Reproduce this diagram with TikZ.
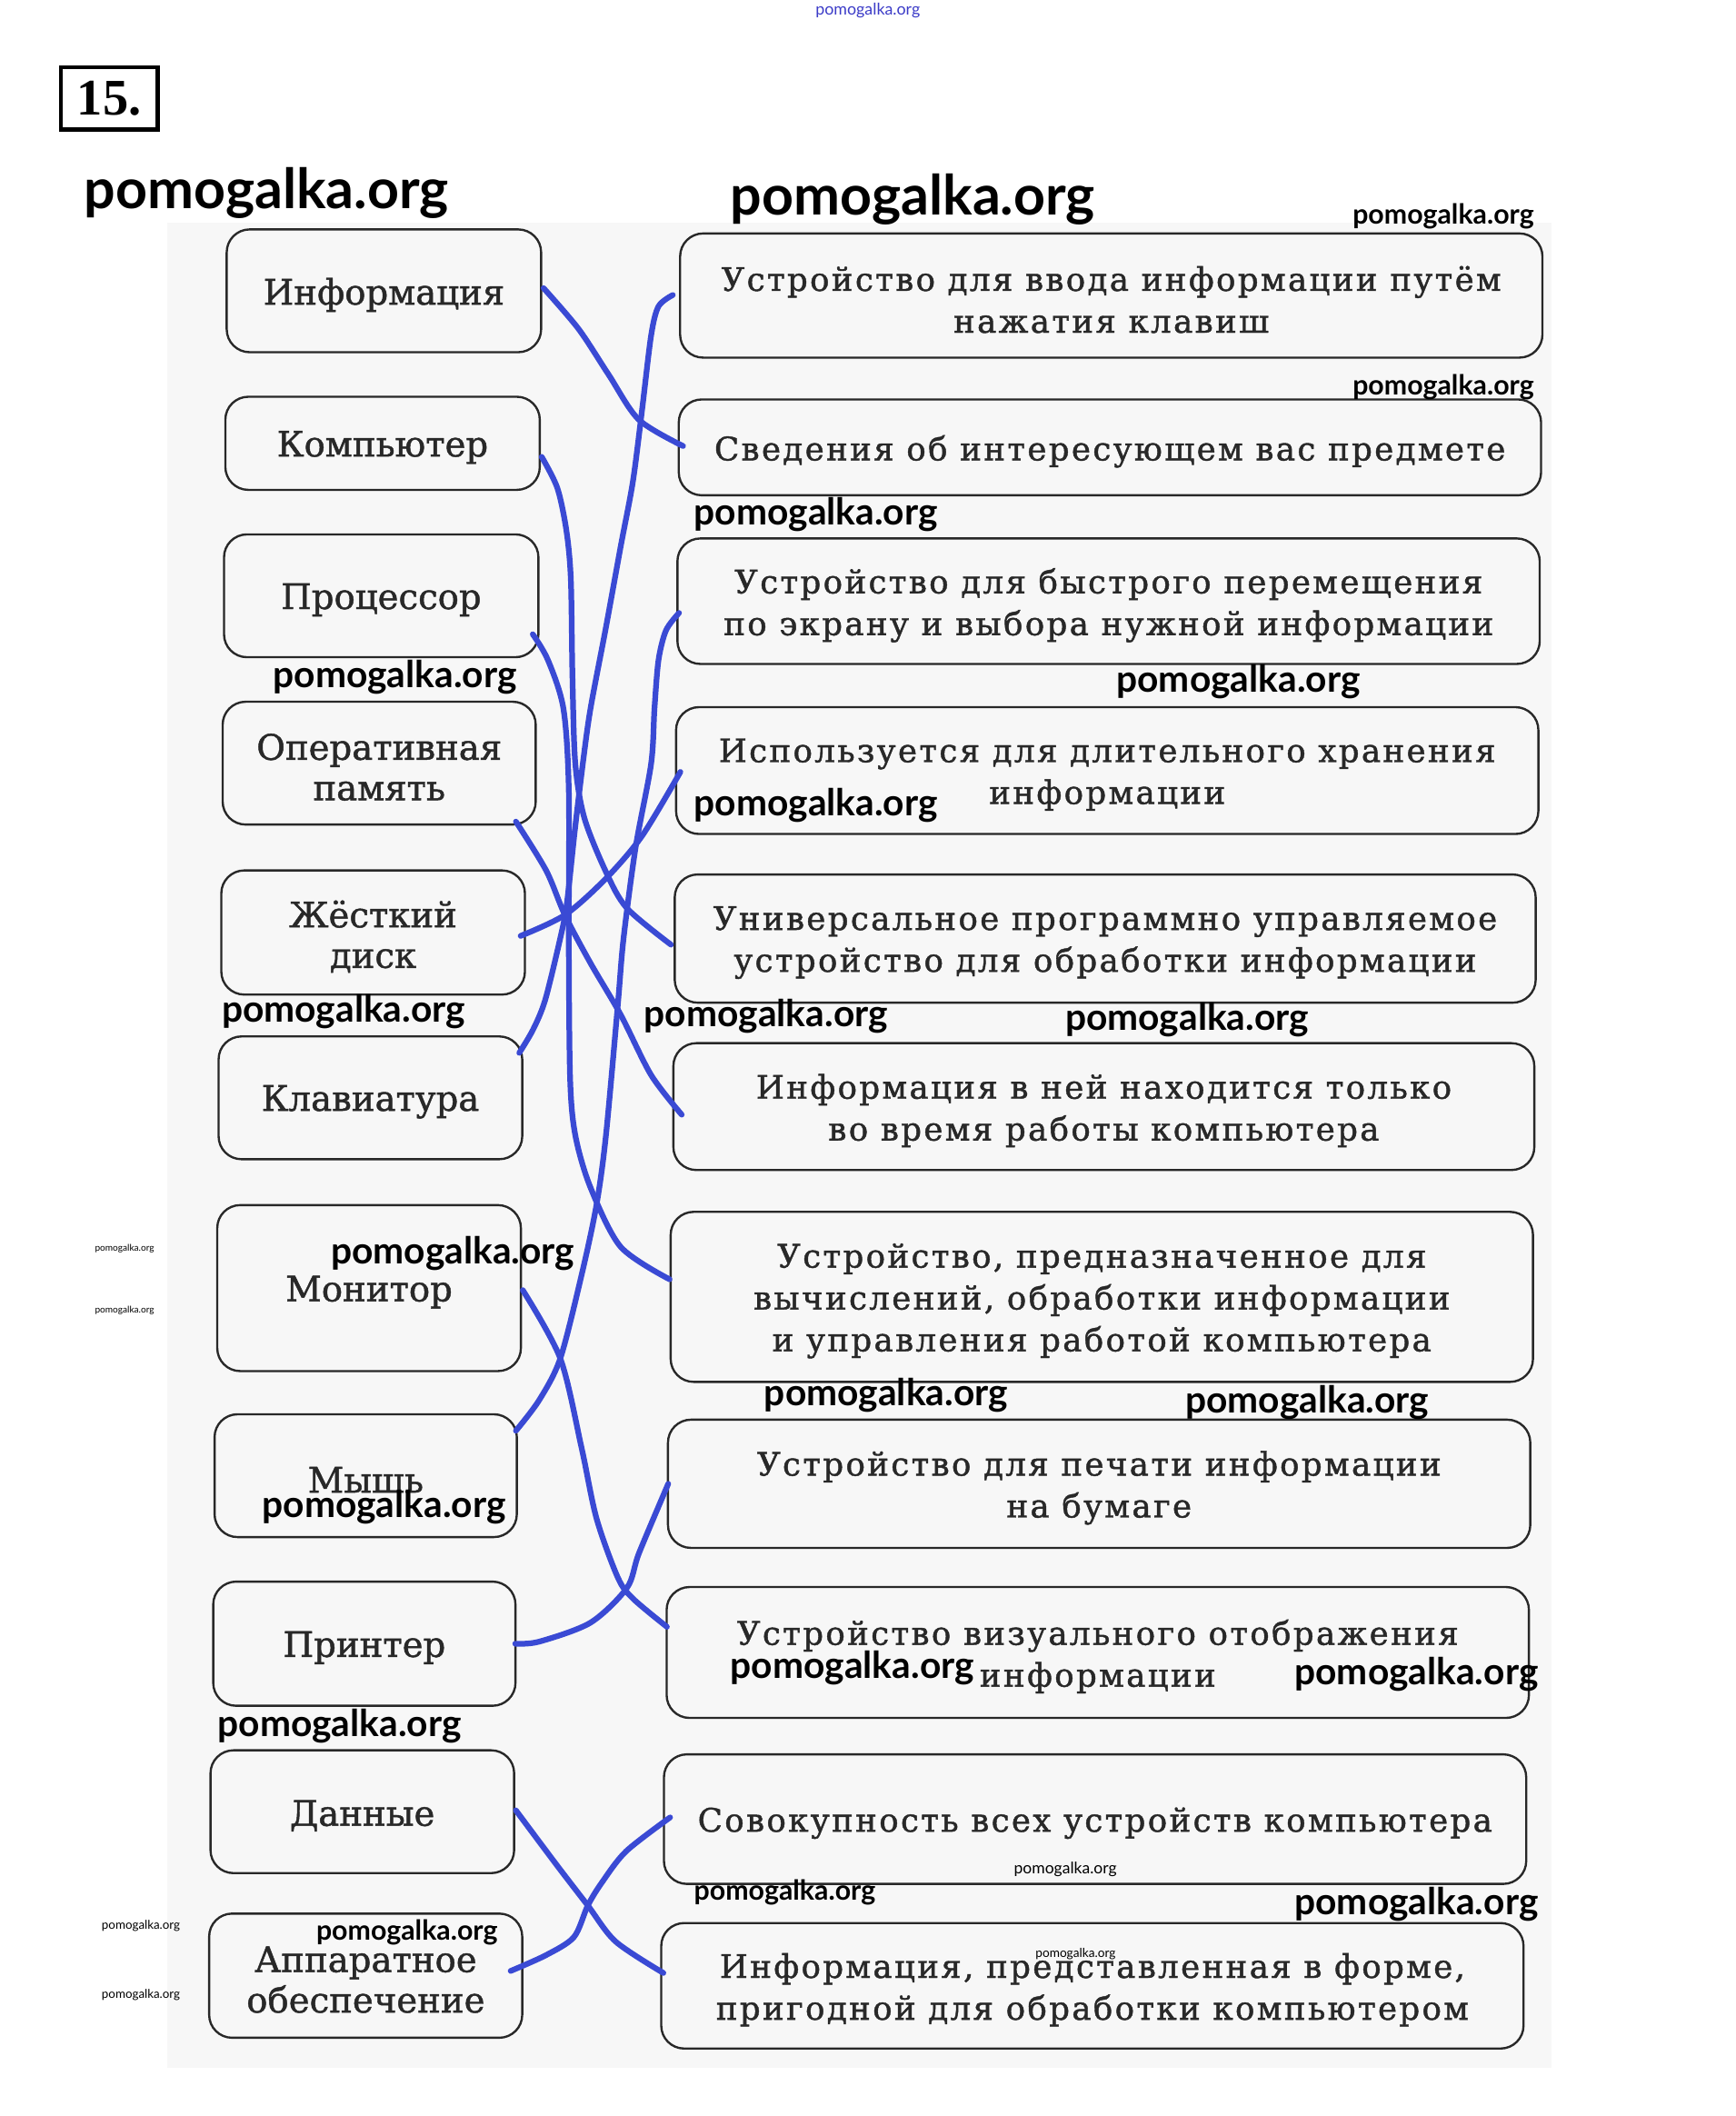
\documentclass[tikz,border=0pt]{standalone}
\usepackage{fontspec}
\setmainfont{DejaVu Serif}
\newfontfamily\lfont{DejaVu Serif}[FakeBold=1.2]
\newfontfamily\rfont{DejaVu Serif}[LetterSpace=6.5,FakeBold=1.2]
\newfontfamily\wmfont{Lato}
\newfontfamily\numfont{Liberation Serif}
\usetikzlibrary{calc}
\definecolor{ink}{RGB}{40,40,40}
\definecolor{pen}{RGB}{58,74,212}
\definecolor{paper}{RGB}{247,247,247}
\tikzset{
  bx/.style={draw=ink, line width=0.8pt, rounded corners=8.5pt, inner sep=0pt},
  tx/.style={inner sep=0pt, text=ink, align=center},
  ltx/.style={tx, font=\lfont\fontsize{13}{15}\selectfont},
  rtx/.style={tx, font=\rfont\fontsize{12}{15.5}\selectfont},
  wire/.style={draw=pen, line width=2.1pt, line cap=round, line join=round},
  wm/.style={inner sep=0pt, anchor=west, text=black},
  wmbig/.style={wm, font=\wmfont\bfseries\fontsize{20.5}{22}\selectfont},
  wmmid/.style={wm, font=\wmfont\bfseries\fontsize{13.7}{15}\selectfont},
  wmsmall/.style={wm, font=\wmfont\bfseries\fontsize{10.2}{12}\selectfont},
}
% #1 text style, #2-#5 corners, #6 name, #7 text
\newcommand\mybox[7]{%
  \node[bx, minimum width={(#4-#2)*0.5pt}, minimum height={(#5-#3)*0.5pt}] (#6) at ({(#2+#4)/2},{(#3+#5)/2}) {};
  \node[#1] (#6t) at ($(#6.center)+(0,3)$) {#7};}
\begin{document}
\begin{tikzpicture}[x=0.5pt,y=-0.5pt]
\useasboundingbox (0,0) rectangle (1286,1568);
\fill[white] (0,0) rectangle (1286,1568);
\fill[paper] (124,165) rectangle (1150,1532);

% exercise number
\node[draw=black, line width=1.5pt, inner sep=0pt, minimum width=36pt, minimum height=23pt,
      font=\numfont\bfseries\fontsize{19}{20}\selectfont] (num) at (81,73) {15.};

% left boxes
\mybox{ltx}{168}{170}{401}{261}{L1}{Информация}
\mybox{ltx}{167}{294}{400}{363}{L2}{Компьютер}
\mybox{ltx}{166}{396}{399}{487}{L3}{Процессор}
\mybox{ltx}{165}{520}{397}{611}{L4}{Оперативная\\память}
\mybox{ltx}{164}{645}{389}{737}{L5}{Жёсткий\\диск}
\mybox{ltx}{162}{768}{387}{859}{L6}{Клавиатура}
\mybox{ltx}{161}{893}{386}{1016}{L7}{Монитор}
\mybox{ltx}{159}{1048}{383}{1139}{L8}{Мышь}
\mybox{ltx}{158}{1172}{382}{1264}{L9}{Принтер}
\mybox{ltx}{156}{1297}{381}{1388}{L10}{Данные}
\mybox{ltx}{155}{1418}{387}{1510}{L11}{Аппаратное\\обеспечение}

% right boxes
\mybox{rtx}{504}{173}{1143}{265}{R1}{Устройство для ввода информации путём\\нажатия клавиш}
\mybox{rtx}{503}{296}{1142}{367}{R2}{Сведения об интересующем вас предмете}
\mybox{rtx}{502}{399}{1141}{492}{R3}{Устройство для быстрого перемещения\\по экрану и выбора нужной информации}
\mybox{rtx}{501}{524}{1140}{618}{R4}{Используется для длительного хранения\\информации}
\mybox{rtx}{500}{648}{1138}{743}{R5}{Универсальное программно управляемое\\устройство для обработки информации}
\mybox{rtx}{499}{773}{1137}{867}{R6}{Информация в ней находится только\\во время работы компьютера}
\mybox{rtx}{497}{898}{1136}{1024}{R7}{Устройство, предназначенное для\\вычислений, обработки информации\\и управления работой компьютера}
\mybox{rtx}{495}{1052}{1134}{1147}{R8}{Устройство для печати информации\\на бумаге}
\mybox{rtx}{494}{1176}{1133}{1273}{R9}{Устройство визуального отображения\\информации}
\mybox{rtx}{492}{1300}{1131}{1396}{R10}{Совокупность всех устройств компьютера}
\mybox{rtx}{490}{1425}{1129}{1518}{R11}{Информация, представленная в форме,\\пригодной для обработки компьютером}

% wire end points
\coordinate (s1) at ($(L1.east)+(1,-2)$);   \coordinate (e1) at ($(R2.west)+(4,-1)$);
\coordinate (s2) at ($(L2.east)+(0.6,10)$); \coordinate (e2) at ($(R5.west)+(-2,4.5)$);
\coordinate (s3) at ($(L3.east)+(-5,28.5)$);\coordinate (e3) at ($(R7.west)+(0,-13)$);
\coordinate (s4) at ($(L4.south east)+(-15.5,-3)$); \coordinate (e4) at ($(R6.west)+(7,6)$);
\coordinate (s5) at ($(L5.east)+(-4,2.5)$); \coordinate (e5) at ($(R4.west)+(4,1)$);
\coordinate (s6) at ($(L6.north east)+(-3,13)$); \coordinate (e6) at ($(R1.west)+(-4.6,-0.4)$);
\coordinate (s7) at ($(L7.east)+(0.6,1.5)$); \coordinate (e7) at ($(R9.west)+(1,-19)$);
\coordinate (s8) at ($(L8.north east)+(-1.5,13)$); \coordinate (e8) at ($(R3.west)+(2,8.7)$);
\coordinate (s9) at ($(L9.east)+(-1,0)$); \coordinate (e9) at ($(R8.west)+(1,0)$);
\coordinate (s10) at ($(L10.east)+(0.5,-1)$); \coordinate (e10) at ($(R11.west)+(2.4,-9.5)$);
\coordinate (s11) at ($(L11.east)+(-9.4,-3.5)$); \coordinate (e11) at ($(R10.west)+(5.4,-1.3)$);

% wires
\draw[wire] plot[smooth] coordinates {(s1) (428.7,243.7) (451,277.6) (473.4,311) (e1)};
\draw[wire] plot[smooth] coordinates {(s2) (413,361.6) (419.7,393) (423,429) (424.2,501) (426.3,565.6) (433,606) (449,646) (464.6,673) (e2)};
\draw[wire] plot[smooth] coordinates {(s3) (406,489) (417.5,525) (421.5,585) (421.5,700) (422.5,800) (426.4,841.6) (437.6,880) (460,924) (e3)};
\draw[wire] plot[smooth] coordinates {(s4) (404.7,645) (418.6,678) (437.6,713.7) (460,752) (482.5,796.6) (e4)};
\draw[wire] plot[smooth] coordinates {(s5) (418.6,678) (449,651) (475.8,619.4) (e5)};
\draw[wire] plot[smooth] coordinates {(s6) (395,763) (404,741) (415,696) (420,670) (426,615) (432,565) (437.6,525) (449,465) (460,404.7) (469,356.8) (475.8,303.7) (482.5,248.6) (488,227) (e6)};
\draw[wire] plot[smooth] coordinates {(s7) (415.2,1006.6) (431,1073) (442,1125) (457.8,1168.9) (469,1184.5) (e7)};
\draw[wire] plot[smooth] coordinates {(s8) (399.5,1037.6) (415.2,1006.6) (431,944.7) (442,893) (449,841.6) (457.8,745) (462,696) (471,628) (482.5,566) (485,525) (488,489) (493.6,467) (e8)};
\draw[wire] plot[smooth] coordinates {(s9) (399.5,1216.5) (437.6,1202.4) (464.6,1176.6) (473.6,1150.7) (e9)};
\draw[wire] plot[smooth] coordinates {(s10) (412.4,1381.8) (435.6,1412) (456.3,1438.8) (e10)};
\draw[wire] plot[smooth] coordinates {(s11) (404.6,1448.8) (425.3,1435.4) (435.6,1412) (446,1395) (464,1371.8) (e11)};

% watermarks
\node[wm, text={rgb,255:red,60;green,60;blue,200}, font=\wmfont\fontsize{6}{7}\selectfont] (wm0) at (604,8) {pomogalka.org};
\node[wmbig] (wm1) at (62,143) {pomogalka.org};
\node[wmbig] (wm2) at (541,148) {pomogalka.org};
\node[wmsmall] (wm3) at (1002,160) {pomogalka.org};
\node[wmsmall] (wm4) at (1002,287) {pomogalka.org};
\node[wmmid] (wm5) at (514,381) {pomogalka.org};
\node[wmmid] (wm6) at (202,502) {pomogalka.org};
\node[wmmid] (wm7) at (827,505) {pomogalka.org};
\node[wmmid] (wm8) at (514,597) {pomogalka.org};
\node[wmmid] (wm9) at (164,750) {pomogalka.org};
\node[wmmid] (wm10) at (477,753) {pomogalka.org};
\node[wmmid] (wm11) at (789,756) {pomogalka.org};
\node[wm, font=\wmfont\fontsize{3.4}{4}\selectfont] (wm12) at (70,925) {pomogalka.org};
\node[wm, font=\wmfont\fontsize{3.4}{4}\selectfont] (wm13) at (70,971) {pomogalka.org};
\node[wmmid] (wm14) at (245,929) {pomogalka.org};
\node[wmmid] (wm15) at (566,1034) {pomogalka.org};
\node[wmmid] (wm16) at (878,1039) {pomogalka.org};
\node[wmmid] (wm17) at (194,1117) {pomogalka.org};
\node[wmmid] (wm18) at (541,1236) {pomogalka.org};
\node[wmmid] (wm19) at (959,1241) {pomogalka.org};
\node[wmmid] (wm20) at (161,1279) {pomogalka.org};
\node[wmsmall] (wm21) at (514,1402) {pomogalka.org};
\node[wm, font=\wmfont\fontsize{5.9}{7}\selectfont] (wm22) at (751,1385) {pomogalka.org};
\node[wmmid] (wm23) at (959,1411) {pomogalka.org};
\node[wm, font=\wmfont\fontsize{4.5}{5}\selectfont] (wm24) at (75,1427) {pomogalka.org};
\node[wm, font=\wmfont\fontsize{4.5}{5}\selectfont] (wm25) at (75,1478) {pomogalka.org};
\node[wmsmall] (wm26) at (234,1432) {pomogalka.org};
\node[wm, font=\wmfont\fontsize{4.6}{5}\selectfont] (wm27) at (767,1448) {pomogalka.org};
\end{tikzpicture}
\end{document}
